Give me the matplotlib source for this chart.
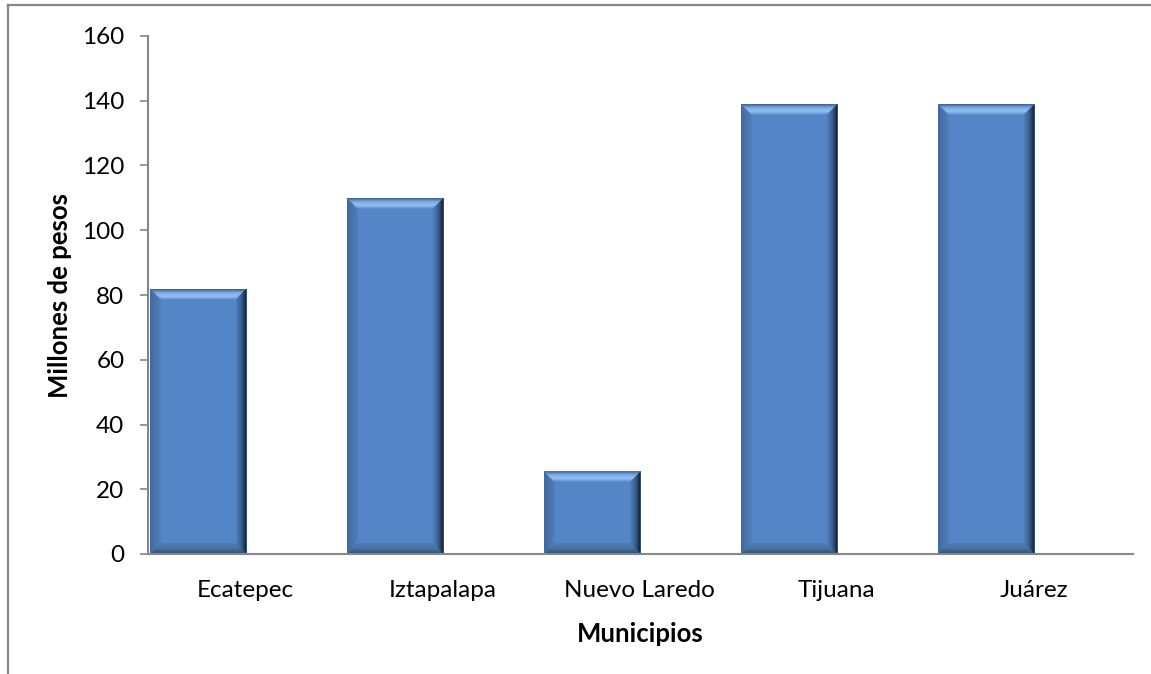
import numpy as np
import matplotlib.pyplot as plt
from matplotlib.patches import Polygon
from matplotlib.lines import Line2D
from matplotlib.colors import LinearSegmentedColormap

plt.rcParams['font.family'] = ['Lato', 'DejaVu Sans']

# datos
municipios = ['Ecatepec', 'Iztapalapa', 'Nuevo Laredo', 'Tijuana', 'Juárez']
millones = [82, 110, 25.5, 139, 139]
yticks = [0, 20, 40, 60, 80, 100, 120, 140, 160]

W, H = 1151, 674
fig = plt.figure(figsize=(W / 100, H / 100), dpi=100)
ax = fig.add_axes([148 / W, 120 / H, 985 / W, 518 / H])

base = '#5486c7'
ancho = 0.49
pos = np.arange(len(municipios))
bars = ax.bar(pos, millones, width=-ancho, align='edge', color=base, zorder=2)

ax.set_xlim(-0.5, len(municipios) - 0.5)
ax.set_ylim(0, 160)

# bisel estilo excel en cada barra
bev = 11  # px
bx = bev * (len(municipios) / 985)
by = bev * (160 / 518)

def gradiente(poly, colores, direccion, ext):
    cmap = LinearSegmentedColormap.from_list('g', colores)
    g = np.linspace(0, 1, 64)
    img = g[None, :] if direccion == 'h' else g[:, None]
    im = ax.imshow(img, cmap=cmap, extent=ext, origin='lower', aspect='auto',
                   interpolation='bilinear', zorder=3)
    im.set_clip_path(poly)

for b in bars:
    x0 = b.get_x() + b.get_width() if b.get_width() < 0 else b.get_x()
    x1 = x0 + abs(b.get_width())
    y0, y1 = 0, b.get_height()
    top = Polygon([(x0, y1), (x1, y1), (x1 - bx, y1 - by), (x0 + bx, y1 - by)],
                  closed=True, facecolor='none', edgecolor='none', transform=ax.transData)
    right = Polygon([(x1, y1), (x1, y0), (x1 - bx, y0 + by), (x1 - bx, y1 - by)],
                    closed=True, facecolor='none', edgecolor='none', transform=ax.transData)
    bottom = Polygon([(x0, y0), (x1, y0), (x1 - bx, y0 + by), (x0 + bx, y0 + by)],
                     closed=True, facecolor='none', edgecolor='none', transform=ax.transData)
    left = Polygon([(x0, y0), (x0, y1), (x0 + bx, y1 - by), (x0 + bx, y0 + by)],
                   closed=True, facecolor='none', edgecolor='none', transform=ax.transData)
    for p in (top, right, bottom, left):
        ax.add_patch(p)
    gradiente(left, ['#44699c', '#4f7fbd'], 'h', (x0, x0 + bx, y0, y1))
    gradiente(bottom, ['#2f4b70', '#48729f', '#4c7bb7'], 'v', (x0, x1, y0, y0 + by))
    gradiente(top, ['#5688c8', '#94bff4', '#7eaae3', '#3a5f90'], 'v', (x0, x1, y1 - by, y1))
    gradiente(right, ['#4f80bf', '#3a5e8c', '#0d1829'], 'h', (x1 - bx, x1, y0, y1))

gris = '#868686'
for s in ['top', 'right']:
    ax.spines[s].set_visible(False)
for s in ['left', 'bottom']:
    ax.spines[s].set_color(gris)
    ax.spines[s].set_linewidth(1.5)
    ax.spines[s].set_zorder(4)

ax.set_yticks(yticks)
ax.tick_params(axis='y', direction='out', length=6, width=1.2, color=gris,
               labelsize=17.5, pad=11)
ax.set_xticks(pos - 0.005)
ax.set_xticklabels(municipios)
ax.tick_params(axis='x', length=0, labelsize=17.5, pad=19)

ax.set_ylabel('Millones de pesos', fontsize=18.5, fontweight='bold', labelpad=7)
ax.set_xlabel('Municipios', fontsize=18.5, fontweight='bold', labelpad=15)

# marco exterior del grafico
fig.add_artist(Line2D([8 / W, 8 / W], [0, 1 - 5 / H], color=gris, lw=1.6))
fig.add_artist(Line2D([8 / W, 1], [1 - 5 / H, 1 - 5 / H], color=gris, lw=1.6))

fig.savefig('out.png', dpi=100)
